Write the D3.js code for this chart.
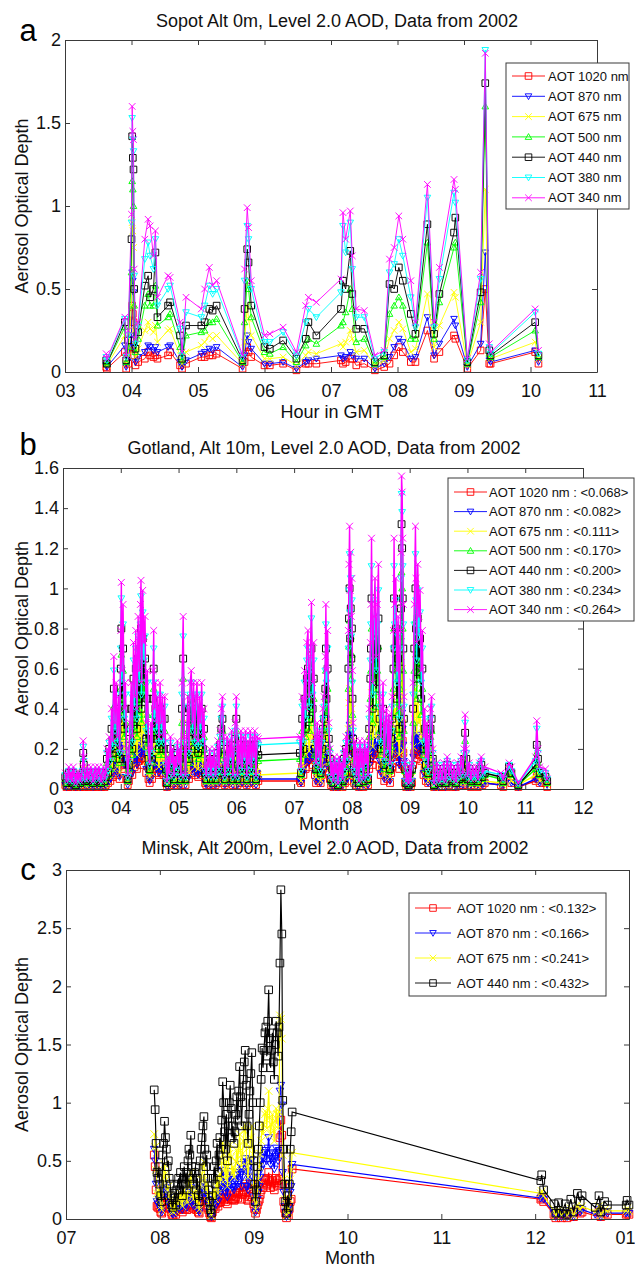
<!DOCTYPE html>
<html>
<head>
<meta charset="utf-8">
<title>AOD 2002 - Sopot, Gotland, Minsk</title>
<style>
  body { margin: 0; background: #fff; }
  svg { display: block; font-family: "Liberation Sans", Arial, sans-serif; }
</style>
</head>
<body>
<script src="https://d3js.org/d3.v7.min.js"></script>
<script>

// ---------- panel a: Sopot (hour of day) ----------
const sopotHours = [3.62,3.63,3.90,3.92,3.95,4.00,4.01,4.02,4.03,4.04,
  4.06,4.10,4.20,4.25,4.28,4.33,4.36,4.39,4.55,4.58,
  4.73,4.76,4.82,5.05,5.10,5.17,5.22,5.28,5.67,5.70,
  5.74,5.76,5.80,6.00,6.08,6.28,6.48,6.62,6.66,6.78,
  7.15,7.18,7.22,7.29,7.32,7.38,7.50,7.66,7.80,7.88,
  7.95,8.02,8.08,8.20,8.27,8.45,8.55,8.63,8.85,8.87,
  9.05,9.25,9.32,9.38,9.40,10.07,10.12];
const sopot1020 = [.03,.02,.12,.02,.05,.15,.40,.35,.30,.10,
  .04,.06,.08,.12,.10,.09,.10,.08,.10,.12,
  .04,.02,.05,.09,.09,.10,.10,.11,.02,.06,
  .15,.12,.09,.04,.04,.05,.01,.05,.05,.05,
  .07,.05,.06,.08,.08,.04,.05,.01,.03,.05,
  .10,.15,.12,.06,.06,.25,.08,.12,.22,.20,
  .02,.13,.50,.05,.05,.12,.05];
const sopot870 = [.04,.03,.16,.03,.07,.22,.60,.55,.48,.15,
  .06,.09,.12,.16,.15,.13,.15,.12,.15,.16,
  .06,.03,.07,.11,.12,.14,.13,.15,.03,.10,
  .22,.18,.14,.05,.05,.06,.02,.06,.07,.08,
  .10,.08,.09,.12,.10,.08,.08,.02,.05,.09,
  .15,.20,.18,.08,.09,.33,.10,.17,.32,.28,
  .03,.17,.72,.07,.06,.13,.06];
const sopot675 = [.05,.04,.22,.05,.10,.40,.90,.85,.75,.25,
  .09,.14,.25,.30,.26,.24,.28,.18,.25,.26,
  .10,.05,.12,.16,.18,.22,.20,.22,.05,.18,
  .40,.32,.22,.08,.08,.09,.04,.10,.12,.11,
  .17,.15,.18,.25,.20,.12,.13,.04,.07,.20,
  .25,.30,.26,.12,.14,.47,.15,.28,.48,.45,
  .04,.30,1.10,.09,.08,.18,.08];
const sopot500 = [.06,.05,.27,.06,.15,.60,1.15,1.10,1.00,.40,
  .12,.20,.40,.47,.40,.40,.52,.28,.33,.35,
  .15,.07,.22,.24,.25,.30,.30,.32,.06,.30,
  .55,.50,.33,.12,.11,.15,.06,.16,.20,.17,
  .28,.30,.36,.50,.38,.18,.20,.05,.09,.35,
  .40,.45,.40,.20,.20,.78,.20,.42,.75,.78,
  .05,.42,1.60,.11,.09,.25,.09];
const sopot440 = [.07,.05,.30,.07,.19,.80,1.42,1.29,1.22,.50,
  .14,.24,.52,.58,.45,.50,.72,.33,.40,.42,
  .22,.08,.28,.28,.30,.38,.37,.40,.07,.38,
  .74,.66,.40,.15,.14,.19,.08,.20,.30,.22,
  .38,.55,.50,.73,.47,.26,.26,.06,.10,.53,
  .50,.63,.55,.35,.23,.89,.23,.47,.84,.93,
  .06,.48,1.74,.13,.10,.30,.10];
const sopot380 = [.09,.07,.32,.09,.22,.90,1.53,1.40,1.33,.58,
  .17,.28,.68,.78,.70,.62,.80,.40,.50,.52,
  .26,.10,.36,.33,.40,.52,.47,.50,.09,.55,
  .88,.80,.50,.18,.18,.24,.10,.30,.38,.33,
  .48,.88,.72,.90,.62,.33,.33,.08,.12,.60,
  .65,.80,.70,.45,.27,1.05,.27,.56,1.08,1.02,
  .07,.56,1.94,.15,.11,.36,.11];
const sopot340 = [.11,.08,.33,.10,.25,.95,1.60,1.45,1.40,.62,
  .20,.30,.80,.92,.88,.70,.85,.45,.58,.57,
  .30,.12,.45,.38,.50,.63,.52,.55,.10,.62,
  .99,.87,.55,.22,.23,.27,.12,.40,.45,.42,
  .56,.96,.80,.97,.70,.38,.37,.10,.13,.68,
  .75,.94,.80,.55,.30,1.13,.30,.63,1.16,1.10,
  .08,.60,1.92,.17,.12,.38,.13];
const sopotXTicks = [3, 4, 5, 6, 7, 8, 9, 10, 11];
const sopotXTickLabels = ['03', '04', '05', '06', '07', '08', '09', '10', '11'];
const sopotYTicks = [0, 0.5, 1, 1.5, 2];

// ---------- panel b: Gotland (month) ----------
const gotlandMonths = [3.04,3.06,3.08,3.10,3.12,3.14,3.16,3.18,3.20,3.22,
  3.24,3.26,3.28,3.30,3.32,3.34,3.35,3.36,3.38,3.40,
  3.42,3.44,3.46,3.48,3.50,3.52,3.54,3.56,3.58,3.60,
  3.62,3.64,3.66,3.68,3.70,3.72,3.74,3.76,3.78,3.80,
  3.82,3.84,3.86,3.88,3.90,3.92,3.94,3.96,3.98,4.00,
  4.01,4.02,4.04,4.06,4.08,4.10,4.12,4.14,4.16,4.18,
  4.20,4.22,4.24,4.26,4.28,4.30,4.32,4.34,4.35,4.36,
  4.38,4.40,4.42,4.44,4.46,4.48,4.50,4.52,4.54,4.56,
  4.57,4.58,4.60,4.62,4.64,4.66,4.68,4.70,4.72,4.74,
  4.76,4.78,4.80,4.82,4.84,4.86,4.88,4.90,4.92,4.94,
  4.96,4.98,5.00,5.02,5.04,5.06,5.08,5.10,5.12,5.14,
  5.16,5.18,5.20,5.22,5.24,5.26,5.28,5.30,5.32,5.34,
  5.36,5.38,5.40,5.42,5.44,5.46,5.48,5.50,5.52,5.54,
  5.56,5.58,5.60,5.62,5.64,5.66,5.68,5.70,5.72,5.74,
  5.76,5.78,5.80,5.82,5.84,5.86,5.88,5.90,5.92,5.94,
  5.96,5.98,6.00,6.02,6.04,6.06,6.08,6.10,6.12,6.14,
  6.16,6.18,6.20,6.22,6.24,6.26,6.28,6.30,6.32,6.34,
  6.36,6.38,7.10,7.12,7.14,7.16,7.18,7.20,7.22,7.24,
  7.26,7.28,7.30,7.32,7.34,7.36,7.38,7.40,7.42,7.44,
  7.46,7.48,7.50,7.52,7.54,7.55,7.56,7.58,7.60,7.62,
  7.64,7.66,7.68,7.70,7.72,7.74,7.76,7.78,7.80,7.82,
  7.84,7.86,7.88,7.90,7.92,7.94,7.95,7.96,7.97,7.98,
  7.99,8.00,8.01,8.02,8.04,8.06,8.08,8.10,8.12,8.14,
  8.16,8.18,8.20,8.22,8.24,8.26,8.28,8.30,8.32,8.33,
  8.34,8.36,8.38,8.40,8.42,8.44,8.46,8.48,8.50,8.52,
  8.54,8.56,8.58,8.60,8.62,8.64,8.66,8.68,8.70,8.72,
  8.73,8.74,8.76,8.78,8.80,8.82,8.84,8.85,8.86,8.87,
  8.88,8.89,8.90,8.92,8.94,8.96,8.98,9.00,9.02,9.04,
  9.06,9.08,9.10,9.11,9.12,9.14,9.16,9.18,9.20,9.22,
  9.24,9.26,9.28,9.30,9.32,9.34,9.36,9.38,9.40,9.42,
  9.44,9.47,9.50,9.53,9.56,9.59,9.62,9.65,9.68,9.71,
  9.74,9.77,9.80,9.83,9.86,9.89,9.92,9.94,9.96,9.98,
  10.00,10.03,10.06,10.09,10.12,10.15,10.18,10.21,10.24,10.26,
  10.30,10.58,10.62,10.72,10.76,10.88,11.18,11.20,11.22,11.25,
  11.35,11.38];
const gotland1020 = [.02,.01,.02,.03,.01,.02,.01,.03,.02,.01,
  .02,.01,.02,.01,.02,.03,.06,.04,.01,.02,
  .03,.01,.02,.03,.02,.01,.02,.03,.01,.02,
  .03,.02,.01,.02,.03,.01,.02,.05,.03,.07,
  .04,.10,.06,.15,.08,.12,.07,.11,.05,.16,
  .20,.14,.18,.10,.12,.05,.02,.04,.08,.12,
  .07,.15,.11,.16,.10,.17,.14,.18,.20,.12,
  .19,.15,.17,.08,.14,.05,.03,.08,.05,.14,
  .16,.10,.12,.08,.11,.07,.12,.08,.11,.07,
  .11,.03,.01,.04,.02,.07,.03,.05,.02,.04,
  .03,.06,.03,.05,.02,.12,.17,.07,.02,.07,
  .11,.05,.12,.14,.08,.12,.07,.11,.12,.06,
  .11,.08,.12,.07,.10,.03,.02,.04,.03,.05,
  .02,.04,.03,.05,.02,.03,.06,.03,.07,.10,
  .11,.07,.02,.03,.07,.03,.06,.04,.07,.02,
  .05,.08,.11,.02,.06,.03,.07,.03,.07,.04,
  .07,.02,.06,.03,.07,.03,.07,.04,.07,.02,
  .07,.04,.04,.03,.11,.07,.14,.10,.15,.16,
  .11,.15,.18,.12,.15,.07,.03,.08,.04,.07,
  .03,.07,.10,.11,.15,.18,.14,.16,.08,.05,
  .02,.03,.01,.04,.02,.03,.01,.04,.02,.03,
  .01,.05,.03,.07,.04,.16,.21,.25,.19,.22,
  .17,.20,.14,.08,.03,.06,.02,.05,.01,.06,
  .03,.05,.01,.06,.03,.05,.02,.10,.15,.18,
  .24,.12,.17,.20,.15,.18,.21,.11,.07,.10,
  .12,.04,.08,.10,.05,.09,.03,.08,.11,.16,
  .24,.18,.20,.14,.17,.10,.16,.22,.33,.30,
  .24,.18,.11,.03,.01,.02,.01,.03,.01,.03,
  .12,.18,.25,.20,.15,.21,.17,.19,.14,.16,
  .07,.10,.04,.08,.03,.07,.10,.11,.05,.01,
  .02,.03,.01,.03,.01,.03,.01,.04,.02,.03,
  .01,.03,.01,.03,.02,.04,.02,.05,.09,.05,
  .02,.03,.01,.03,.02,.03,.01,.03,.04,.02,
  .03,.02,.01,.08,.03,.01,.04,.07,.05,.03,
  .03,.01];
const gotland870 = [.02,.01,.02,.03,.02,.02,.01,.03,.02,.01,
  .02,.02,.02,.01,.02,.03,.07,.05,.02,.02,
  .03,.02,.02,.03,.02,.01,.02,.03,.02,.02,
  .03,.02,.01,.02,.03,.02,.02,.06,.03,.08,
  .05,.12,.07,.19,.10,.16,.08,.14,.06,.20,
  .26,.17,.22,.12,.16,.06,.02,.05,.10,.16,
  .08,.20,.14,.20,.12,.21,.17,.22,.26,.16,
  .24,.20,.21,.10,.17,.06,.04,.10,.06,.17,
  .20,.12,.16,.10,.14,.08,.16,.10,.14,.08,
  .14,.04,.01,.05,.02,.08,.04,.06,.02,.05,
  .03,.07,.04,.06,.02,.16,.21,.08,.02,.08,
  .14,.06,.16,.17,.10,.16,.08,.14,.16,.07,
  .14,.10,.16,.08,.12,.03,.02,.05,.03,.06,
  .02,.05,.03,.06,.02,.04,.07,.03,.09,.12,
  .14,.08,.02,.04,.08,.03,.07,.05,.09,.02,
  .06,.10,.14,.02,.07,.04,.09,.03,.08,.05,
  .09,.02,.07,.04,.09,.03,.08,.05,.09,.02,
  .08,.05,.05,.03,.14,.08,.17,.12,.20,.20,
  .14,.19,.22,.16,.20,.08,.04,.10,.05,.09,
  .03,.08,.12,.14,.19,.22,.17,.20,.10,.06,
  .02,.04,.01,.05,.02,.04,.01,.05,.02,.04,
  .02,.06,.03,.08,.05,.20,.27,.32,.24,.29,
  .21,.26,.17,.10,.03,.07,.02,.06,.01,.07,
  .03,.06,.02,.07,.04,.06,.02,.12,.20,.22,
  .30,.16,.21,.26,.19,.22,.27,.14,.08,.12,
  .16,.05,.10,.12,.06,.11,.04,.10,.14,.20,
  .30,.22,.26,.17,.21,.12,.20,.29,.42,.38,
  .30,.22,.14,.04,.01,.02,.01,.03,.01,.04,
  .16,.22,.32,.26,.20,.27,.21,.24,.17,.20,
  .08,.12,.05,.10,.03,.08,.12,.14,.06,.01,
  .02,.04,.01,.03,.02,.04,.01,.05,.02,.04,
  .02,.03,.01,.04,.02,.05,.02,.06,.11,.06,
  .02,.04,.02,.03,.02,.03,.02,.04,.05,.02,
  .03,.02,.02,.09,.03,.01,.05,.08,.06,.03,
  .04,.02];
const gotland675 = [.03,.02,.03,.04,.02,.03,.02,.04,.03,.01,
  .03,.02,.03,.02,.03,.04,.10,.07,.02,.03,
  .04,.02,.03,.04,.03,.02,.03,.04,.02,.03,
  .04,.03,.02,.03,.04,.02,.03,.08,.04,.11,
  .07,.17,.10,.26,.14,.21,.11,.19,.08,.30,
  .40,.24,.35,.17,.21,.08,.03,.07,.14,.21,
  .11,.28,.19,.30,.17,.33,.24,.35,.40,.21,
  .38,.28,.33,.14,.24,.08,.06,.14,.08,.24,
  .30,.17,.21,.14,.19,.11,.21,.14,.19,.11,
  .19,.06,.02,.07,.03,.11,.06,.08,.03,.07,
  .04,.10,.06,.08,.03,.21,.33,.11,.03,.11,
  .19,.08,.21,.24,.14,.21,.11,.19,.21,.10,
  .19,.14,.21,.11,.17,.04,.03,.07,.04,.08,
  .03,.07,.04,.08,.03,.06,.10,.04,.12,.17,
  .19,.11,.03,.06,.11,.04,.10,.07,.12,.03,
  .08,.14,.19,.03,.10,.06,.12,.04,.11,.07,
  .12,.03,.10,.06,.12,.04,.11,.07,.12,.03,
  .11,.07,.08,.04,.19,.11,.24,.17,.28,.30,
  .19,.26,.35,.21,.28,.11,.06,.14,.07,.12,
  .04,.11,.17,.19,.26,.35,.24,.30,.14,.08,
  .03,.06,.02,.07,.03,.06,.01,.07,.03,.06,
  .02,.08,.04,.11,.07,.30,.43,.50,.38,.45,
  .33,.40,.24,.14,.04,.10,.03,.08,.02,.10,
  .04,.08,.02,.10,.06,.08,.03,.17,.28,.35,
  .48,.21,.33,.40,.26,.35,.43,.19,.11,.17,
  .21,.07,.14,.17,.08,.16,.06,.14,.19,.30,
  .48,.35,.40,.24,.33,.17,.30,.45,.66,.60,
  .48,.35,.19,.06,.02,.03,.01,.04,.02,.06,
  .21,.35,.50,.40,.28,.43,.33,.38,.24,.30,
  .11,.17,.07,.14,.04,.11,.17,.19,.08,.01,
  .03,.06,.02,.04,.02,.06,.02,.07,.03,.06,
  .02,.04,.02,.06,.03,.07,.03,.08,.16,.08,
  .03,.06,.02,.04,.03,.04,.02,.06,.07,.03,
  .04,.03,.02,.10,.04,.02,.07,.12,.08,.04,
  .05,.02];
const gotland500 = [.05,.03,.04,.07,.03,.05,.03,.07,.04,.02,
  .05,.03,.05,.03,.04,.07,.15,.10,.03,.04,
  .07,.03,.05,.07,.04,.03,.05,.07,.03,.05,
  .07,.04,.03,.05,.07,.03,.05,.13,.07,.17,
  .10,.26,.15,.41,.21,.33,.17,.29,.13,.50,
  .67,.37,.59,.26,.33,.13,.04,.10,.21,.33,
  .17,.45,.29,.50,.26,.55,.37,.59,.67,.33,
  .63,.45,.55,.21,.37,.13,.09,.21,.13,.37,
  .50,.26,.33,.21,.29,.17,.33,.21,.29,.17,
  .29,.09,.03,.10,.05,.17,.09,.13,.04,.10,
  .07,.15,.09,.13,.04,.33,.55,.17,.04,.17,
  .29,.13,.33,.37,.21,.33,.17,.29,.33,.15,
  .29,.21,.33,.17,.26,.07,.04,.10,.07,.13,
  .04,.10,.07,.13,.04,.09,.15,.07,.19,.26,
  .29,.17,.04,.09,.17,.07,.15,.10,.19,.04,
  .13,.21,.29,.04,.15,.09,.19,.07,.17,.10,
  .19,.04,.15,.09,.19,.07,.17,.10,.19,.04,
  .17,.14,.15,.07,.29,.17,.37,.26,.45,.50,
  .29,.41,.59,.33,.45,.17,.09,.21,.10,.19,
  .07,.17,.26,.29,.41,.59,.37,.50,.21,.13,
  .04,.09,.03,.10,.05,.09,.02,.10,.04,.09,
  .03,.13,.07,.17,.10,.50,.71,.84,.63,.76,
  .55,.67,.37,.21,.07,.15,.04,.13,.03,.15,
  .07,.13,.03,.15,.09,.13,.04,.26,.45,.59,
  .80,.33,.55,.67,.41,.59,.71,.29,.17,.26,
  .33,.10,.21,.26,.13,.24,.09,.21,.29,.50,
  .80,.59,.67,.37,.55,.26,.50,.76,1.08,1.00,
  .80,.59,.29,.09,.03,.05,.02,.07,.03,.09,
  .33,.59,.84,.67,.45,.71,.55,.63,.37,.50,
  .17,.26,.10,.21,.07,.17,.26,.29,.13,.02,
  .04,.09,.03,.07,.03,.09,.03,.10,.04,.09,
  .03,.07,.03,.09,.04,.10,.05,.13,.24,.13,
  .04,.09,.03,.07,.04,.07,.03,.09,.10,.05,
  .07,.05,.03,.10,.07,.02,.10,.18,.13,.07,
  .05,.03];
const gotland440 = [.06,.03,.05,.08,.04,.06,.03,.08,.05,.02,
  .06,.04,.06,.03,.05,.08,.18,.12,.04,.05,
  .08,.04,.06,.08,.05,.03,.06,.08,.04,.06,
  .08,.05,.03,.06,.08,.04,.06,.15,.08,.20,
  .12,.30,.18,.50,.25,.40,.20,.35,.15,.60,
  .80,.45,.70,.30,.40,.15,.05,.12,.25,.40,
  .20,.55,.35,.60,.30,.65,.45,.70,.80,.40,
  .75,.55,.65,.25,.45,.15,.10,.25,.15,.45,
  .60,.30,.40,.25,.35,.20,.40,.25,.35,.20,
  .35,.10,.03,.12,.06,.20,.10,.15,.05,.12,
  .08,.18,.10,.15,.05,.40,.65,.20,.05,.20,
  .35,.15,.40,.45,.25,.40,.20,.35,.40,.18,
  .35,.25,.40,.20,.30,.08,.05,.12,.08,.15,
  .05,.12,.08,.15,.05,.10,.18,.08,.22,.30,
  .35,.20,.05,.10,.20,.08,.18,.12,.22,.05,
  .15,.25,.35,.05,.18,.10,.22,.08,.20,.12,
  .22,.05,.18,.10,.22,.08,.20,.12,.22,.05,
  .20,.17,.18,.08,.35,.20,.45,.30,.55,.60,
  .35,.50,.70,.40,.55,.20,.10,.25,.12,.22,
  .08,.20,.30,.35,.50,.70,.45,.60,.25,.15,
  .05,.10,.03,.12,.06,.10,.02,.12,.05,.10,
  .04,.15,.08,.20,.12,.60,.85,1.00,.75,.90,
  .65,.80,.45,.25,.08,.18,.05,.15,.03,.18,
  .08,.15,.04,.18,.10,.15,.05,.30,.55,.70,
  .95,.40,.65,.80,.50,.70,.85,.35,.20,.30,
  .40,.12,.25,.30,.15,.28,.10,.25,.35,.60,
  .95,.70,.80,.45,.65,.30,.60,.90,1.32,1.20,
  .95,.70,.35,.10,.03,.06,.02,.08,.03,.10,
  .40,.70,1.00,.80,.55,.85,.65,.75,.45,.60,
  .20,.30,.12,.25,.08,.20,.30,.35,.15,.02,
  .05,.10,.03,.08,.04,.10,.03,.12,.05,.10,
  .04,.08,.03,.10,.05,.12,.06,.15,.28,.15,
  .05,.10,.04,.08,.05,.08,.04,.10,.12,.06,
  .08,.06,.04,.11,.08,.02,.12,.22,.15,.08,
  .06,.04];
const gotland380 = [.07,.04,.06,.09,.05,.07,.04,.09,.06,.03,
  .07,.05,.07,.04,.06,.09,.21,.14,.05,.06,
  .09,.05,.07,.09,.06,.04,.07,.09,.05,.07,
  .09,.06,.04,.07,.09,.05,.07,.18,.09,.23,
  .14,.35,.21,.59,.29,.47,.23,.41,.18,.70,
  .95,.53,.82,.35,.47,.18,.06,.14,.29,.47,
  .23,.64,.41,.70,.35,.76,.53,.82,.96,.47,
  .88,.64,.76,.29,.53,.18,.12,.29,.18,.53,
  .70,.35,.47,.29,.41,.23,.47,.29,.41,.23,
  .41,.12,.04,.14,.07,.23,.12,.18,.06,.14,
  .09,.21,.12,.18,.06,.47,.76,.23,.06,.23,
  .41,.18,.47,.53,.29,.47,.23,.41,.47,.21,
  .41,.29,.47,.23,.35,.09,.06,.14,.09,.18,
  .06,.14,.09,.18,.06,.12,.21,.09,.26,.35,
  .41,.23,.06,.12,.23,.09,.21,.14,.26,.06,
  .18,.29,.41,.06,.21,.12,.26,.09,.23,.14,
  .26,.06,.21,.12,.26,.09,.23,.14,.26,.06,
  .23,.22,.23,.09,.41,.23,.53,.35,.64,.70,
  .41,.59,.85,.47,.64,.23,.12,.29,.14,.26,
  .09,.23,.35,.41,.59,.82,.53,.70,.29,.18,
  .06,.12,.04,.14,.07,.12,.03,.14,.06,.12,
  .05,.18,.09,.23,.14,.70,.99,1.17,.88,1.05,
  .76,.94,.53,.29,.09,.21,.06,.18,.04,.21,
  .09,.18,.05,.21,.12,.18,.06,.35,.64,.82,
  1.11,.47,.76,.94,.59,.82,.99,.41,.23,.35,
  .47,.14,.29,.35,.18,.33,.12,.29,.41,.70,
  1.11,.82,.94,.53,.76,.35,.70,1.05,1.47,1.38,
  1.11,.82,.41,.12,.04,.07,.03,.09,.04,.12,
  .47,.82,1.17,.94,.64,.99,.76,.88,.53,.70,
  .23,.35,.14,.29,.09,.23,.35,.41,.18,.03,
  .06,.12,.04,.09,.05,.12,.04,.14,.06,.12,
  .05,.09,.04,.12,.06,.14,.07,.18,.33,.18,
  .06,.12,.05,.09,.06,.09,.05,.12,.14,.07,
  .09,.07,.05,.12,.09,.03,.14,.30,.18,.09,
  .08,.05];
const gotland340 = [.08,.04,.07,.11,.05,.08,.04,.11,.07,.03,
  .08,.05,.08,.04,.07,.11,.24,.16,.05,.07,
  .11,.05,.08,.11,.07,.04,.08,.11,.05,.08,
  .11,.07,.04,.08,.11,.05,.08,.20,.11,.26,
  .16,.40,.24,.66,.33,.53,.26,.46,.20,.79,
  1.03,.59,.92,.40,.53,.20,.07,.16,.33,.53,
  .26,.73,.46,.79,.40,.86,.59,.92,1.04,.53,
  .99,.73,.86,.33,.59,.20,.13,.33,.20,.59,
  .79,.40,.53,.33,.46,.26,.53,.33,.46,.26,
  .46,.13,.04,.16,.08,.26,.13,.20,.07,.16,
  .11,.24,.13,.20,.07,.53,.86,.26,.07,.26,
  .46,.20,.53,.59,.33,.53,.26,.46,.53,.24,
  .46,.33,.53,.26,.40,.11,.07,.16,.11,.20,
  .07,.16,.11,.20,.07,.13,.24,.11,.29,.40,
  .46,.26,.07,.13,.26,.11,.24,.16,.29,.07,
  .20,.33,.46,.07,.24,.13,.29,.11,.26,.16,
  .29,.07,.24,.13,.29,.11,.26,.16,.29,.07,
  .26,.25,.26,.11,.46,.26,.59,.40,.73,.79,
  .46,.66,.93,.53,.73,.26,.13,.33,.16,.29,
  .11,.26,.40,.46,.66,.92,.59,.79,.33,.20,
  .07,.13,.04,.16,.08,.13,.03,.16,.07,.13,
  .05,.20,.11,.26,.16,.79,1.12,1.31,.99,1.18,
  .86,1.05,.59,.33,.11,.24,.07,.20,.04,.24,
  .11,.20,.05,.24,.13,.20,.07,.40,.73,.92,
  1.25,.53,.86,1.05,.66,.92,1.12,.46,.26,.40,
  .53,.16,.33,.40,.20,.37,.13,.33,.46,.79,
  1.25,.92,1.05,.59,.86,.40,.79,1.18,1.56,1.48,
  1.25,.92,.46,.13,.04,.08,.03,.11,.04,.13,
  .53,.92,1.31,1.05,.73,1.12,.86,.99,.59,.79,
  .26,.40,.16,.33,.11,.26,.40,.46,.20,.03,
  .07,.13,.04,.11,.05,.13,.04,.16,.07,.13,
  .05,.11,.04,.13,.07,.16,.08,.20,.37,.20,
  .07,.13,.05,.11,.07,.11,.05,.13,.16,.08,
  .11,.08,.05,.13,.11,.03,.16,.34,.20,.11,
  .10,.05];
const gotlandMeans = ['0.068', '0.082', '0.111', '0.170', '0.200', '0.234', '0.264'];
const gotlandXTicks = [3, 4, 5, 6, 7, 8, 9, 10, 11, 12];
const gotlandXTickLabels = ['03', '04', '05', '06', '07', '08', '09', '10', '11', '12'];
const gotlandYTicks = [0, 0.2, 0.4, 0.6, 0.8, 1, 1.2, 1.4, 1.6];

// ---------- panel c: Minsk (month, 13 = January) ----------
const minskMonths = [7.94,7.95,7.96,7.97,7.98,7.99,8.00,8.01,8.02,8.03,
  8.04,8.05,8.06,8.07,8.08,8.09,8.10,8.11,8.12,8.13,
  8.14,8.15,8.16,8.17,8.18,8.19,8.20,8.21,8.22,8.23,
  8.24,8.25,8.26,8.27,8.28,8.29,8.30,8.31,8.32,8.33,
  8.34,8.35,8.36,8.37,8.38,8.39,8.40,8.41,8.42,8.43,
  8.44,8.45,8.46,8.47,8.48,8.49,8.50,8.51,8.52,8.53,
  8.54,8.55,8.56,8.57,8.58,8.59,8.60,8.61,8.62,8.63,
  8.64,8.65,8.66,8.67,8.68,8.69,8.70,8.71,8.72,8.73,
  8.74,8.75,8.76,8.77,8.78,8.79,8.80,8.81,8.82,8.83,
  8.84,8.85,8.86,8.87,8.88,8.89,8.90,8.91,8.92,8.93,
  8.94,8.95,8.96,8.97,8.98,8.99,9.00,9.01,9.02,9.03,
  9.04,9.05,9.06,9.07,9.08,9.09,9.10,9.11,9.12,9.13,
  9.14,9.15,9.16,9.17,9.18,9.19,9.20,9.21,9.22,9.23,
  9.24,9.25,9.26,9.27,9.28,9.29,9.30,9.31,9.32,9.33,
  9.34,9.35,9.36,9.37,9.38,9.39,9.40,9.41,12.06,12.07,
  12.09,12.20,12.22,12.25,12.28,12.32,12.34,12.38,12.41,12.45,
  12.48,12.50,12.64,12.68,12.70,12.74,12.77,12.97,12.98,13.00];
const minsk1020 = [.55,.45,.25,.11,.10,.12,.09,.06,.05,.14,
  .16,.18,.17,.15,.12,.13,.10,.09,.06,.04,
  .03,.06,.07,.04,.08,.09,.10,.08,.11,.09,
  .06,.10,.12,.09,.11,.08,.13,.15,.14,.17,
  .12,.10,.09,.11,.12,.08,.10,.06,.05,.13,
  .15,.17,.17,.19,.15,.12,.14,.10,.08,.05,
  .02,.01,.06,.10,.12,.09,.13,.16,.11,.14,
  .17,.15,.18,.25,.21,.17,.15,.19,.13,.17,
  .21,.24,.20,.17,.17,.16,.17,.19,.22,.18,
  .23,.27,.22,.17,.21,.25,.28,.30,.24,.17,
  .16,.19,.23,.26,.30,.21,.13,.09,.05,.08,
  .12,.15,.17,.21,.25,.31,.27,.30,.33,.34,
  .29,.35,.40,.32,.27,.30,.33,.28,.25,.31,
  .35,.33,.29,.34,.70,.85,.72,.30,.15,.09,
  .05,.01,.06,.03,.09,.15,.17,.43,.17,.18,
  .15,.04,.01,.04,.01,.04,.01,.05,.02,.07,
  .05,.06,.03,.06,.02,.05,.04,.04,.05,.04];
const minsk870 = [.60,.50,.30,.15,.13,.17,.11,.08,.06,.21,
  .25,.30,.27,.23,.17,.19,.13,.11,.08,.05,
  .04,.07,.08,.05,.10,.11,.13,.10,.15,.11,
  .08,.13,.17,.11,.15,.10,.19,.23,.21,.27,
  .17,.13,.11,.15,.17,.10,.13,.08,.06,.19,
  .23,.27,.28,.31,.23,.17,.21,.13,.10,.06,
  .03,.02,.08,.13,.17,.11,.19,.25,.15,.21,
  .27,.23,.30,.42,.36,.28,.23,.32,.19,.28,
  .36,.41,.34,.27,.28,.25,.28,.32,.38,.30,
  .40,.47,.38,.28,.36,.43,.49,.52,.41,.28,
  .25,.32,.40,.45,.51,.36,.19,.11,.06,.10,
  .17,.23,.28,.36,.43,.53,.47,.52,.57,.59,
  .50,.61,.70,.56,.47,.52,.57,.49,.43,.54,
  .61,.57,.50,.59,1.10,1.15,.98,.40,.23,.11,
  .06,.02,.08,.04,.11,.23,.28,.47,.18,.20,
  .17,.05,.02,.05,.02,.05,.02,.06,.02,.08,
  .06,.08,.04,.08,.02,.06,.05,.05,.06,.05];
const minsk675 = [.73,.62,.42,.22,.20,.25,.17,.11,.08,.31,
  .36,.47,.39,.34,.25,.28,.20,.17,.11,.07,
  .06,.10,.12,.07,.14,.17,.20,.14,.22,.17,
  .11,.20,.25,.17,.22,.14,.28,.34,.31,.40,
  .25,.20,.17,.22,.25,.14,.20,.11,.08,.28,
  .34,.39,.45,.49,.34,.25,.31,.20,.14,.08,
  .04,.03,.11,.20,.25,.17,.28,.36,.22,.31,
  .39,.34,.48,.66,.56,.42,.34,.50,.28,.45,
  .56,.64,.53,.39,.45,.36,.42,.50,.59,.48,
  .62,.73,.59,.45,.56,.67,.76,.81,.64,.45,
  .36,.50,.62,.70,.80,.56,.28,.17,.08,.14,
  .25,.34,.45,.56,.67,.82,.73,.81,.90,.92,
  .78,.95,1.10,.87,.73,.81,.90,.76,.67,.84,
  .95,.90,.78,.92,1.75,1.72,1.55,.55,.34,.17,
  .08,.03,.11,.06,.17,.34,.42,.57,.22,.24,
  .20,.07,.03,.08,.03,.07,.03,.09,.03,.12,
  .08,.11,.06,.11,.03,.08,.07,.07,.09,.07];
const minsk440 = [1.11,.94,.65,.40,.35,.45,.30,.20,.15,.55,
  .65,.84,.70,.60,.45,.50,.35,.30,.20,.12,
  .10,.18,.22,.12,.25,.30,.35,.25,.40,.30,
  .20,.35,.45,.30,.40,.25,.50,.60,.55,.72,
  .45,.35,.30,.40,.45,.25,.35,.20,.15,.50,
  .60,.70,.80,.88,.60,.45,.55,.35,.25,.15,
  .08,.05,.20,.35,.45,.30,.50,.65,.40,.55,
  .70,.60,.85,1.18,1.00,.75,.60,.90,.50,.80,
  1.00,1.15,.95,.70,.80,.65,.75,.90,1.05,.85,
  1.10,1.31,1.05,.80,1.00,1.20,1.35,1.45,1.15,.80,
  .65,.90,1.10,1.25,1.43,1.00,.50,.30,.15,.25,
  .45,.60,.80,1.00,1.20,1.47,1.30,1.45,1.60,1.65,
  1.40,1.70,1.97,1.55,1.30,1.45,1.60,1.35,1.20,1.50,
  1.70,1.60,1.40,1.65,2.20,2.83,2.45,1.02,.60,.30,
  .15,.05,.20,.10,.30,.60,.75,.92,.33,.38,
  .25,.13,.05,.14,.05,.13,.04,.17,.06,.22,
  .15,.20,.10,.20,.06,.15,.12,.12,.16,.12];
const minskMeans = ['0.132', '0.166', '0.241', '0.432'];
const minskXTicks = [7, 8, 9, 10, 11, 12, 13];
const minskXTickLabels = ['07', '08', '09', '10', '11', '12', '01'];
const minskYTicks = [0, 0.5, 1, 1.5, 2, 2.5, 3];

// ---------- series styles (MATLAB colour/marker codes) ----------
const styles = {
  1020: { color: '#ff0000', marker: 'square' },
  870:  { color: '#0000ff', marker: 'down' },
  675:  { color: '#ffff00', marker: 'x' },
  500:  { color: '#00ff00', marker: 'up' },
  440:  { color: '#000000', marker: 'square' },
  380:  { color: '#00ffff', marker: 'down' },
  340:  { color: '#ff00ff', marker: 'x' }
};

function markerPath(type, s) {
  if (type === 'square') return `M${-s},${-s}H${s}V${s}H${-s}Z`;
  if (type === 'down') return `M${-s},${-s * 0.75}H${s}L0,${s}Z`;
  if (type === 'up') return `M${-s},${s * 0.75}H${s}L0,${-s}Z`;
  return `M${-s},${-s}L${s},${s}M${-s},${s}L${s},${-s}`;
}

const svg = d3.select('body').append('svg')
  .attr('width', 635)
  .attr('height', 1267);

const panels = [
  {
    letter: 'a', letterY: 41,
    title: 'Sopot Alt 0m, Level 2.0 AOD, Data from 2002', titleX: 337, titleY: 27,
    xLabel: 'Hour in GMT', xLabelX: 332, xLabelY: 418,
    box: { left: 65, right: 597, top: 40, bottom: 372 },
    xDomain: [3, 11], yDomain: [0, 2],
    xTicks: sopotXTicks, xTickLabels: sopotXTickLabels, yTicks: sopotYTicks,
    xs: sopotHours, markerSize: 3.3, lineWidth: 0.9,
    series: [
      { nm: 1020, values: sopot1020 }, { nm: 870, values: sopot870 },
      { nm: 675, values: sopot675 }, { nm: 500, values: sopot500 },
      { nm: 440, values: sopot440 }, { nm: 380, values: sopot380 },
      { nm: 340, values: sopot340 }
    ],
    means: null,
    legend: { left: 506, right: 629, top: 63, bottom: 209, row0: 76, step: 20.3, lineX0: 512, lineX1: 545, textX: 548 }
  },
  {
    letter: 'b', letterY: 455,
    title: 'Gotland, Alt 10m, Level 2.0 AOD, Data from 2002', titleX: 324, titleY: 454,
    xLabel: 'Month', xLabelX: 324, xLabelY: 830,
    box: { left: 63, right: 583, top: 468, bottom: 789 },
    xDomain: [3, 12], yDomain: [0, 1.6],
    xTicks: gotlandXTicks, xTickLabels: gotlandXTickLabels, yTicks: gotlandYTicks,
    xs: gotlandMonths, markerSize: 3.4, lineWidth: 1.4,
    series: [
      { nm: 1020, values: gotland1020 }, { nm: 870, values: gotland870 },
      { nm: 675, values: gotland675 }, { nm: 500, values: gotland500 },
      { nm: 440, values: gotland440 }, { nm: 380, values: gotland380 },
      { nm: 340, values: gotland340 }
    ],
    means: gotlandMeans,
    legend: { left: 448, right: 634, top: 478, bottom: 621, row0: 492, step: 19.6, lineX0: 454, lineX1: 487, textX: 489 }
  },
  {
    letter: 'c', letterY: 880,
    title: 'Minsk, Alt 200m, Level 2.0 AOD, Data from 2002', titleX: 335, titleY: 854,
    xLabel: 'Month', xLabelX: 350, xLabelY: 1264,
    box: { left: 66, right: 629, top: 870, bottom: 1219 },
    xDomain: [7, 13], yDomain: [0, 3],
    xTicks: minskXTicks, xTickLabels: minskXTickLabels, yTicks: minskYTicks,
    xs: minskMonths, markerSize: 3.8, lineWidth: 1.15,
    series: [
      { nm: 1020, values: minsk1020 }, { nm: 870, values: minsk870 },
      { nm: 675, values: minsk675 }, { nm: 440, values: minsk440 }
    ],
    means: minskMeans,
    legend: { left: 409, right: 606, top: 893, bottom: 996, row0: 908, step: 25, lineX0: 415, lineX1: 451, textX: 457 }
  }
];

function styleAxis(g) {
  g.attr('font-size', 18)
    .attr('font-family', '"Liberation Sans", Arial, sans-serif');
  g.selectAll('path.domain').attr('stroke', '#3a3a3a');
  g.selectAll('.tick line').attr('stroke', '#3a3a3a');
  g.selectAll('.tick text').attr('fill', '#111');
}

function drawPanel(p) {
  const b = p.box;
  const x = d3.scaleLinear().domain(p.xDomain).range([b.left, b.right]);
  const y = d3.scaleLinear().domain(p.yDomain).range([b.bottom, b.top]);
  const g = svg.append('g');

  // data: each wavelength drawn as line + markers, in legend order
  const plot = g.append('g');
  p.series.forEach(s => {
    const st = styles[s.nm];
    const pts = p.xs.map((xv, i) => [xv, s.values[i]]);
    const line = d3.line().x(d => x(d[0])).y(d => y(d[1]));
    plot.append('path')
      .attr('d', line(pts))
      .attr('fill', 'none')
      .attr('stroke', st.color)
      .attr('stroke-width', p.lineWidth);
    plot.append('g').selectAll('path')
      .data(pts)
      .enter().append('path')
      .attr('transform', d => 'translate(' + x(d[0]) + ',' + y(d[1]) + ')')
      .attr('d', markerPath(st.marker, p.markerSize))
      .attr('fill', 'none')
      .attr('stroke', st.color)
      .attr('stroke-width', 0.95);
  });

  // box axes, ticks pointing inward on all four sides
  const xb = g.append('g')
    .attr('transform', 'translate(0,' + b.bottom + ')')
    .call(d3.axisBottom(x).tickValues(p.xTicks).tickSize(-5).tickSizeOuter(0).tickPadding(12)
      .tickFormat((d, i) => p.xTickLabels[i]))
    .call(styleAxis);
  // last label sits on the right edge, keep it inside the page
  const lastTick = xb.selectAll('.tick text').filter((d, i, n) => i === n.length - 1);
  if (p.xDomain[1] === 13) lastTick.attr('text-anchor', 'end').attr('x', 6);

  g.append('g')
    .attr('transform', 'translate(0,' + b.top + ')')
    .call(d3.axisTop(x).tickValues(p.xTicks).tickSize(-5).tickSizeOuter(0).tickFormat(''))
    .call(styleAxis);
  g.append('g')
    .attr('transform', 'translate(' + b.left + ',0)')
    .call(d3.axisLeft(y).tickValues(p.yTicks).tickSize(-5).tickSizeOuter(0).tickPadding(4)
      .tickFormat(d => String(d)))
    .call(styleAxis);
  g.append('g')
    .attr('transform', 'translate(' + b.right + ',0)')
    .call(d3.axisRight(y).tickValues(p.yTicks).tickSize(-5).tickSizeOuter(0).tickFormat(''))
    .call(styleAxis);

  // texts
  g.append('text')
    .attr('x', p.titleX).attr('y', p.titleY)
    .attr('text-anchor', 'middle')
    .attr('font-size', 18).attr('fill', '#111')
    .text(p.title);
  g.append('text')
    .attr('x', 28).attr('y', p.letterY)
    .attr('text-anchor', 'middle')
    .attr('font-size', 31).attr('fill', '#000')
    .text(p.letter);
  g.append('text')
    .attr('x', p.xLabelX).attr('y', p.xLabelY)
    .attr('text-anchor', 'middle')
    .attr('font-size', 18).attr('fill', '#111')
    .text(p.xLabel);
  g.append('text')
    .attr('transform', 'translate(22,' + (b.top + b.bottom) / 2 + ') rotate(-90)')
    .attr('text-anchor', 'middle')
    .attr('dominant-baseline', 'central')
    .attr('font-size', 18).attr('fill', '#111')
    .text('Aerosol Optical Depth');

  // legend
  const L = p.legend;
  const lg = g.append('g');
  lg.append('rect')
    .attr('x', L.left).attr('y', L.top)
    .attr('width', L.right - L.left).attr('height', L.bottom - L.top)
    .attr('fill', '#fff').attr('stroke', '#3a3a3a').attr('stroke-width', 1);
  p.series.forEach((s, i) => {
    const st = styles[s.nm];
    const yy = L.row0 + i * L.step;
    lg.append('line')
      .attr('x1', L.lineX0).attr('x2', L.lineX1)
      .attr('y1', yy).attr('y2', yy)
      .attr('stroke', st.color).attr('stroke-width', 0.9);
    lg.append('path')
      .attr('transform', 'translate(' + (L.lineX0 + L.lineX1) / 2 + ',' + yy + ')')
      .attr('d', markerPath(st.marker, 3.3))
      .attr('fill', 'none').attr('stroke', st.color).attr('stroke-width', 0.9);
    const label = 'AOT ' + s.nm + ' nm' + (p.means ? ' : <' + p.means[i] + '>' : '');
    lg.append('text')
      .attr('x', L.textX).attr('y', yy + 4.6)
      .attr('font-size', 13).attr('fill', '#111')
      .text(label);
  });
}

panels.forEach(drawPanel);

</script>
</body>
</html>
